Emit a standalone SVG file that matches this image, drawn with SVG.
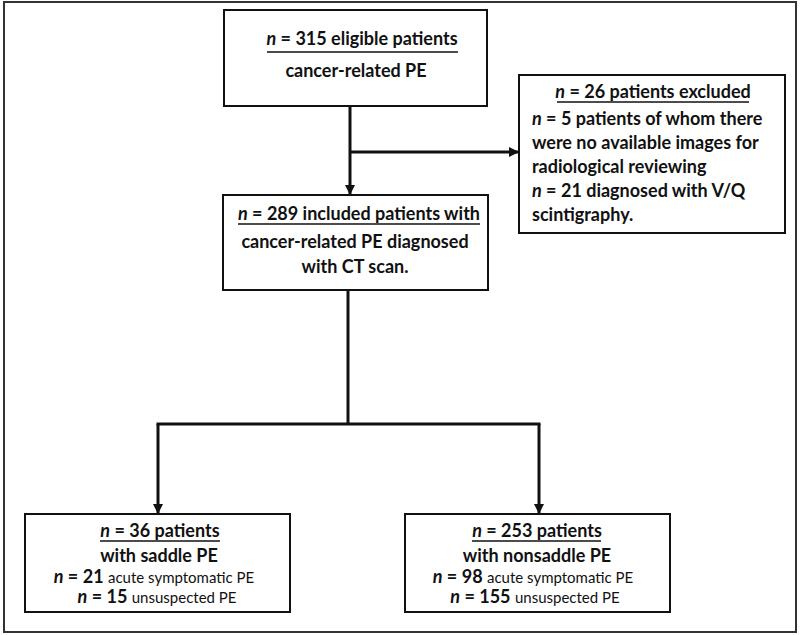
<svg xmlns="http://www.w3.org/2000/svg" width="800" height="635" viewBox="0 0 800 635">
<style>
.box{fill:#fff;stroke:#111;stroke-width:2}
.t{font-family:Lato,"Open Sans","Liberation Sans",sans-serif;font-weight:bold;fill:#111;font-size:18px}
.c{text-anchor:middle}
.s{font-size:15px;font-weight:normal}
.e{font-size:18px;font-weight:bold}
.ln{stroke:#111;stroke-width:3;fill:none}
.ul{stroke:#111;stroke-width:1.5}
</style>
<defs>
<marker id="ah" markerWidth="10" markerHeight="10" refX="9" refY="5" orient="auto" markerUnits="userSpaceOnUse" viewBox="0 0 10 10">
<path d="M0,0 L10,5 L0,10 z" fill="#111"/>
</marker>
</defs>
<rect x="4" y="2" width="792" height="630" fill="#fff" stroke="#333" stroke-width="2"/>
<g id="connectors">
<line class="ln" x1="350" y1="106" x2="350" y2="194" marker-end="url(#ah)"/>
<line class="ln" x1="350" y1="152" x2="518" y2="152" marker-end="url(#ah)"/>
<line class="ln" x1="348" y1="291" x2="348" y2="424"/>
<line class="ln" x1="156.5" y1="424" x2="540.5" y2="424"/>
<line class="ln" x1="158" y1="424" x2="158" y2="513" marker-end="url(#ah)"/>
<line class="ln" x1="539" y1="424" x2="539" y2="513" marker-end="url(#ah)"/>
</g>
<g id="node-eligible">
<rect class="box" x="224" y="10" width="263" height="96"/>
<text class="t c" x="362" y="45" font-size="19"><tspan font-style="italic">n</tspan> = 315 eligible patients</text>
<line class="ul" x1="267" y1="52" x2="458" y2="52"/>
<text class="t c" x="356" y="77" font-size="17.5">cancer-related PE</text>
</g>
<g id="node-excluded">
<rect class="box" x="519" y="75" width="266" height="158"/>
<text class="t c" x="653" y="98" font-size="17"><tspan font-style="italic">n</tspan> = 26 patients excluded</text>
<line class="ul" x1="557" y1="102" x2="749" y2="102"/>
<text class="t e" x="532" y="125"><tspan font-style="italic">n</tspan> = 5 patients of whom there</text>
<text class="t e" x="532" y="149">were no available images for</text>
<text class="t e" x="532" y="173">radiological reviewing</text>
<text class="t e" x="532" y="197"><tspan font-style="italic">n</tspan> = 21 diagnosed with V/Q</text>
<text class="t e" x="532" y="221">scintigraphy.</text>
</g>
<g id="node-included">
<rect class="box" x="223" y="195" width="265" height="95"/>
<text class="t c" x="359" y="220"><tspan font-style="italic">n</tspan> = 289 included patients with</text>
<line class="ul" x1="238" y1="224" x2="480" y2="224"/>
<text class="t c" x="355" y="248">cancer-related PE diagnosed</text>
<text class="t c" x="355" y="273">with CT scan.</text>
</g>
<g id="node-saddle">
<rect class="box" x="25" y="514" width="265" height="98"/>
<text class="t c" x="160" y="537"><tspan font-style="italic">n</tspan> = 36 patients</text>
<line class="ul" x1="100" y1="541" x2="220" y2="541"/>
<text class="t c" x="159" y="562">with saddle PE</text>
<text class="t c" x="154" y="583"><tspan font-style="italic">n</tspan> = 21 <tspan class="s">acute symptomatic PE</tspan></text>
<text class="t c" x="157" y="603"><tspan font-style="italic">n</tspan> = 15 <tspan class="s">unsuspected PE</tspan></text>
</g>
<g id="node-nonsaddle">
<rect class="box" x="405" y="514" width="265" height="98"/>
<text class="t c" x="537" y="537"><tspan font-style="italic">n</tspan> = 253 patients</text>
<line class="ul" x1="472" y1="541" x2="601" y2="541"/>
<text class="t c" x="537" y="562">with nonsaddle PE</text>
<text class="t c" x="533" y="583"><tspan font-style="italic">n</tspan> = 98 <tspan class="s">acute symptomatic PE</tspan></text>
<text class="t c" x="535" y="603"><tspan font-style="italic">n</tspan> = 155 <tspan class="s">unsuspected PE</tspan></text>
</g>
</svg>
